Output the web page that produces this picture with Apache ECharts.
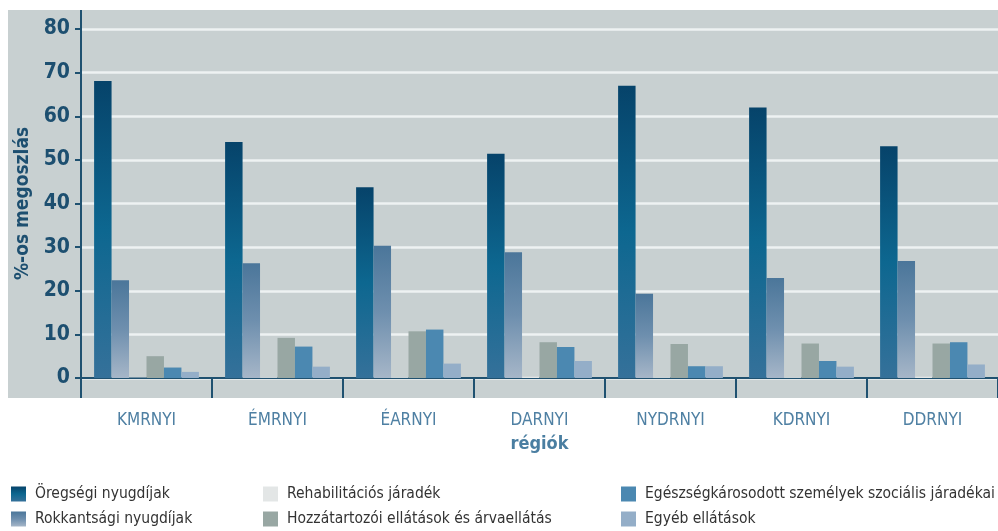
<!DOCTYPE html>
<html>
<head>
<meta charset="utf-8">
<script src="https://cdn.jsdelivr.net/npm/echarts@6/dist/echarts.min.js"></script>
<style>
  html, body { margin: 0; padding: 0; background: #fff; }
  #chart { width: 998px; height: 531px; }
</style>
</head>
<body>
<div id="chart"></div>
<script>
  // régiók
  var regiok = ['KMRNYI', 'ÉMRNYI', 'ÉARNYI', 'DARNYI', 'NYDRNYI', 'KDRNYI', 'DDRNYI'];
  var yTicks = [0, 10, 20, 30, 40, 50, 60, 70, 80];

  // %-os megoszlás ellátásonként
  var oregsegi     = [68.1, 54.1, 43.7, 51.4, 67.0, 62.0, 53.1];
  var rokkantsagi  = [22.4, 26.3, 30.3, 28.8, 19.3, 22.9, 26.8];
  var rehab        = [0.1, 0.2, 0.2, 0.3, 0.2, 0.2, 0.3];
  var hozzatartozoi = [5.0, 9.2, 10.7, 8.2, 7.8, 7.9, 7.9];
  var egeszseg     = [2.4, 7.2, 11.1, 7.1, 2.7, 3.9, 8.2];
  var egyeb        = [1.4, 2.6, 3.3, 3.9, 2.7, 2.6, 3.1];

  var seriesNames = [
    'Öregségi nyugdíjak', 'Rokkantsági nyugdíjak', 'Rehabilitációs járadék',
    'Hozzátartozói ellátások és árvaellátás', 'Egészségkárosodott személyek szociális járadékai', 'Egyéb ellátások'
  ];

  var FONT = "'Liberation Sans Narrow', 'DejaVu Sans Condensed', 'Roboto', sans-serif";
  var axisColor = '#1f5170';

  function grad(top, mid, bottom) {
    return {
      type: 'linear', x: 0, y: 0, x2: 0, y2: 1,
      colorStops: [{offset: 0, color: top}, {offset: 0.5, color: mid}, {offset: 1, color: bottom}]
    };
  }

  var colors = [
    grad('#06436a', '#0d6790', '#35719a'),
    grad('#4b769a', '#6e8fae', '#a6b6c8'),
    '#e3e6e6',
    '#98a7a3',
    '#4b88b1',
    '#94aec8'
  ];
  var datas = [oregsegi, rokkantsagi, rehab, hozzatartozoi, egeszseg, egyeb];

  var series = seriesNames.map(function (name, i) {
    return {
      name: name,
      type: 'bar',
      barGap: '0%',
      barCategoryGap: '20%',
      itemStyle: {color: colors[i]},
      data: datas[i]
    };
  });

  // legend: 3 oszlop x 2 sor
  var legendCols = [6, 258, 616];
  var legendRows = [481, 506];
  var legends = seriesNames.map(function (name, i) {
    return {
      left: legendCols[Math.floor(i / 2)], top: legendRows[i % 2],
      icon: 'rect', itemWidth: 15, itemHeight: 15,
      textStyle: {fontFamily: FONT, fontSize: 15.5, color: '#333', padding: [0, 0, 0, 4]},
      data: [name]
    };
  });

  var chart = echarts.init(document.getElementById('chart'));
  var option = {
    backgroundColor: '#fff',
    animation: false,
    graphic: [
      {type: 'rect', z: -10, silent: true, shape: {x: 8, y: 10, width: 990, height: 388}, style: {fill: '#c8d0d1'}},
      {type: 'line', z: 10, silent: true, shape: {x1: 81, y1: 10, x2: 81, y2: 30}, style: {stroke: axisColor, lineWidth: 2}}
    ],
    legend: legends,
    grid: {left: 81, top: 29, width: 927, height: 349},
    xAxis: {
      type: 'category',
      data: regiok,
      name: 'régiók',
      nameLocation: 'middle',
      nameGap: 57,
      nameTextStyle: {fontFamily: FONT, fontSize: 18, fontWeight: 'bold', color: '#4a7ea1'},
      axisLine: {lineStyle: {color: axisColor, width: 2}},
      axisTick: {show: true, length: 20, lineStyle: {color: axisColor, width: 2}},
      axisLabel: {margin: 34, fontFamily: FONT, fontSize: 17, color: '#4f80a3', interval: 0},
      splitLine: {show: false}
    },
    yAxis: {
      type: 'value',
      min: 0, max: 80, interval: 10,
      name: '%-os megoszlás',
      nameLocation: 'middle',
      nameGap: 46,
      nameTextStyle: {fontFamily: FONT, fontSize: 19, fontWeight: 'bold', color: '#1d4f70'},
      axisLine: {show: true, lineStyle: {color: axisColor, width: 2}},
      axisTick: {show: true, length: 6, lineStyle: {color: axisColor, width: 2}},
      axisLabel: {margin: 11, fontFamily: FONT, fontSize: 21, fontWeight: 'bold', color: '#1d4f70'},
      splitLine: {lineStyle: {color: '#eef2f2', width: 2.5}}
    },
    series: series
  };
  chart.setOption(option);
</script>
</body>
</html>
